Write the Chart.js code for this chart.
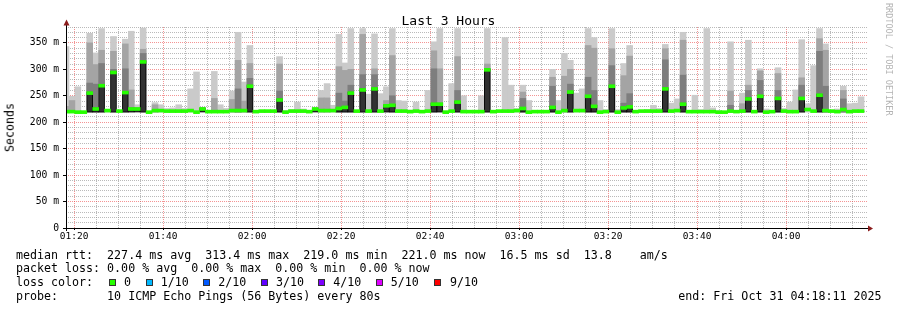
<!DOCTYPE html>
<html>
<head>
<meta charset="utf-8">
<script src="https://cdn.jsdelivr.net/npm/chart.js@4.4.0/dist/chart.umd.min.js"></script>
<style>
html, body { margin: 0; padding: 0; background: #fff; }
#wrap { position: relative; width: 897px; height: 310px; overflow: hidden; font-family: 'DejaVu Sans Mono', monospace; color: #000; }
#wrap canvas { position: absolute; left: 0; top: 0; }
.t { position: absolute; white-space: pre; line-height: 1; font-size: 11.65px; }
.sw { position: absolute; width: 5px; height: 5px; border: 1px solid #333; top: 279px; }
#title { left: 0; width: 897px; text-align: center; top: 14px; font-size: 13px; }
#ylab { left: 5px; top: 103px; writing-mode: vertical-rl; transform: rotate(180deg); }
#credit { left: 884px; top: 3px; writing-mode: vertical-rl; font-size: 8.5px; color: #b4b4b4; }
</style>
</head>
<body>
<div id="wrap">
  <canvas id="chart" width="897" height="310"></canvas>
  <div class="t" id="title">Last 3 Hours</div>
  <div class="t" id="ylab">Seconds</div>
  <div class="t" id="credit">RRDTOOL / TOBI OETIKER</div>
  <div id="legend"></div>
</div>
<script>
// time window: 01:18:11 -> 04:18:11, one probe every 80s
const START = 78 + 11 / 60;
const END = START + 180;
const STEP = 80 / 60;
const MIN_RTT = 219.0;

const xTickLabels = ['01:20', '01:40', '02:00', '02:20', '02:40', '03:00', '03:20', '03:40', '04:00'];
const yTickLabels = ['0', '50 m', '100 m', '150 m', '200 m', '250 m', '300 m', '350 m'];

// smoke: top of the outer (lightest) band, the next band, the darker band; then the median
const smokeMax = [
  343, 249, 267, 221, 368, 331, 377, 224, 362, 221, 357, 372, 233, 378, 220, 237, 233, 226, 227, 233,
  226, 263, 295, 228, 222, 296, 233, 226, 259, 370, 276, 345, 220, 221, 221, 221, 324, 222, 224, 238,
  225, 222, 226, 260, 273, 232, 366, 312, 377, 222, 377, 253, 367, 254, 267, 377, 241, 240, 223, 238,
  221, 260, 352, 377, 221, 273, 377, 250, 222, 222, 250, 377, 222, 221, 360, 270, 226, 270, 241, 220,
  220, 220, 300, 241, 330, 317, 255, 263, 377, 360, 241, 224, 377, 224, 311, 345, 220, 221, 224, 232,
  226, 347, 236, 244, 370, 220, 251, 224, 377, 227, 222, 219, 352, 222, 255, 355, 220, 301, 225, 222,
  303, 226, 238, 261, 356, 235, 307, 377, 348, 221, 225, 268, 235, 236, 248
];
const smokeHigh = [
  230, 241, null, null, 350, 309, 336, null, 334, null, 348, 261, null, 338, null, 233, null, null, null, null,
  null, null, null, null, null, 245, null, null, 243, 317, 240, 311, null, null, null, null, 310, null, null, null,
  null, null, null, 246, 246, null, 305, 298, 300, null, 366, null, 301, null, 241, 326, null, null, null, null,
  null, null, 335, 301, null, null, 324, null, null, null, null, 310, null, null, null, null, null, 257, null, null,
  null, null, 285, null, 287, 300, null, null, 345, 340, null, null, 339, null, 288, 325, null, null, null, null,
  null, 339, null, null, 355, null, null, null, null, null, null, null, 259, null, 235, 270, null, 297, null, null,
  292, null, null, null, 284, null, null, 358, 336, null, null, 260, null, null, null
];
const smokeMid = [
  null, null, null, null, 274, 272, 311, null, 300, null, 301, null, null, 330, null, null, null, null, null, null,
  null, null, null, null, null, null, null, null, null, 263, null, 283, null, null, null, null, 259, null, null, null,
  null, null, null, null, null, null, 255, 240, 270, null, 290, null, 290, null, null, 250, null, null, null, null,
  null, null, 301, null, null, null, 260, null, null, null, null, 301, null, null, null, null, null, 245, null, null,
  null, null, 268, null, null, 272, null, null, 285, 260, null, null, 307, null, 236, 254, null, null, null, null,
  null, 318, null, null, 289, null, null, null, null, null, null, null, 232, null, null, 260, null, 279, null, null,
  260, null, null, null, 270, null, null, 334, 268, null, null, 244, null, null, null
];
const median = [
  220, 220, 219, 219, 255, 225, 269, 222, 294, 221, 256, 225, 225, 314, 219, 222, 222, 221, 221, 221,
  221, 222, 219, 225, 220, 220, 220, 220, 222, 222, 222, 268, 220, 221, 221, 221, 242, 219, 221, 221,
  221, 220, 225, 222, 222, 222, 226, 228, 255, 221, 261, 221, 263, 221, 231, 232, 221, 221, 220, 221,
  220, 221, 234, 234, 219, 221, 238, 220, 220, 220, 220, 299, 220, 221, 221, 221, 222, 226, 219, 220,
  220, 220, 228, 219, 222, 257, 222, 222, 249, 230, 219, 220, 268, 219, 227, 229, 220, 221, 221, 221,
  221, 263, 221, 222, 234, 220, 220, 220, 220, 220, 219, 219, 221, 220, 221, 244, 220, 249, 219, 220,
  245, 221, 220, 220, 245, 224, 221, 251, 222, 221, 220, 224, 220, 221, 221
];

const legendLines = [
  'median rtt:  227.4 ms avg  313.4 ms max  219.0 ms min  221.0 ms now  16.5 ms sd  13.8    am/s',
  'packet loss: 0.00 % avg  0.00 % max  0.00 % min  0.00 % now',
  'loss color:',
  'probe:       10 ICMP Echo Pings (56 Bytes) every 80s'
];
const lossLabels = ['0', '1/10', '2/10', '3/10', '4/10', '5/10', '9/10'];
const lossColors = ['#26ff00', '#00b8ff', '#0059ff', '#5e00ff', '#7e00ff', '#dd00ff', '#ff0000'];
const endLabel = 'end: Fri Oct 31 04:18:11 2025';

// legend text below the plot
const legend = document.getElementById('legend');
const lineTops = [249.8, 263.1, 277.1, 290.8];
legendLines.forEach((txt, i) => {
  const d = document.createElement('div');
  d.className = 't';
  d.style.left = '16px';
  d.style.top = lineTops[i] + 'px';
  d.textContent = txt;
  legend.appendChild(d);
});
const swX = [109, 146, 203.3, 261, 318.3, 376, 434.3];
const lblX = [124, 160.7, 218.3, 276, 333.3, 390.7, 450];
lossLabels.forEach((lab, i) => {
  const s = document.createElement('div');
  s.className = 'sw';
  s.style.left = swX[i] + 'px';
  s.style.background = lossColors[i];
  legend.appendChild(s);
  const d = document.createElement('div');
  d.className = 't';
  d.style.left = lblX[i] + 'px';
  d.style.top = lineTops[2] + 'px';
  d.textContent = lab;
  legend.appendChild(d);
});
const endDiv = document.createElement('div');
endDiv.className = 't';
endDiv.style.left = '678.3px';
endDiv.style.top = lineTops[3] + 'px';
endDiv.textContent = endLabel;
legend.appendChild(endDiv);

// chart data
const times = median.map((_, i) => START + i * STEP);
const band = (arr) => arr.map((v, i) => v == null ? null : { x: times[i], y: [MIN_RTT, v] }).filter(p => p);

const toMin = s => { const [h, m] = s.split(':').map(Number); return h * 60 + m; };
const majorX = xTickLabels.map(toMin);
const gridX = [];
for (let m = 80; m < END; m += 5) gridX.push(m);

const barOpts = { grouped: false, barPercentage: 1, categoryPercentage: 1, borderWidth: 0 };
const MAJOR_GRID = 'rgba(235,60,60,0.55)';
const MINOR_GRID = 'rgba(140,140,140,0.6)';

const axisArrows = {
  id: 'axisArrows',
  afterDraw(chart) {
    const { ctx, chartArea: a } = chart;
    ctx.save();
    ctx.strokeStyle = '#000';
    ctx.lineWidth = 1;
    ctx.beginPath();
    ctx.moveTo(a.left + 0.5, a.bottom + 3);
    ctx.lineTo(a.left + 0.5, a.top - 5);
    ctx.moveTo(a.left - 3, a.bottom + 0.5);
    ctx.lineTo(a.right + 2, a.bottom + 0.5);
    ctx.stroke();
    ctx.fillStyle = '#8b1c1c';
    ctx.beginPath();
    ctx.moveTo(a.left + 0.5, a.top - 7.5);
    ctx.lineTo(a.left - 2.5, a.top - 1.5);
    ctx.lineTo(a.left + 3.5, a.top - 1.5);
    ctx.closePath();
    ctx.fill();
    ctx.beginPath();
    ctx.moveTo(a.right + 6, a.bottom + 0.5);
    ctx.lineTo(a.right + 1, a.bottom - 2.5);
    ctx.lineTo(a.right + 1, a.bottom + 3.5);
    ctx.closePath();
    ctx.fill();
    ctx.restore();
  }
};

new Chart(document.getElementById('chart'), {
  type: 'bar',
  data: {
    datasets: [
      { ...barOpts, data: band(smokeMax), backgroundColor: '#cacaca', order: 5 },
      { ...barOpts, data: band(smokeHigh), backgroundColor: '#a4a4a4', order: 4 },
      { ...barOpts, data: band(smokeMid), backgroundColor: '#7e7e7e', order: 3 },
      { ...barOpts, data: band(median.map(v => v >= 225 ? v + 2 : null)), backgroundColor: '#323232',
        borderWidth: 1, borderColor: '#0a0a0a', borderSkipped: false, order: 2 },
      { ...barOpts, data: median.map((v, i) => ({ x: times[i], y: [v - 2.8, v + 2.8] })), backgroundColor: '#26ff00', order: 1 }
    ]
  },
  options: {
    responsive: false,
    animation: false,
    devicePixelRatio: 1,
    layout: { padding: { top: 27, right: 30, left: 0, bottom: 0 } },
    plugins: { legend: { display: false }, tooltip: { enabled: false }, title: { display: false } },
    scales: {
      x: {
        type: 'linear',
        min: START,
        max: END,
        offset: false,
        afterFit: s => { s.height = 82; },
        afterBuildTicks: s => { s.ticks = gridX.map(v => ({ value: v })); },
        ticks: {
          autoSkip: false,
          maxRotation: 0,
          padding: 1,
          color: '#000',
          font: { family: 'DejaVu Sans Mono', size: 9.5 },
          callback: v => { const k = majorX.indexOf(v); return k >= 0 ? xTickLabels[k] : ''; }
        },
        grid: {
          offset: false,
          tickLength: 2,
          color: c => majorX.includes(c.tick.value) ? MAJOR_GRID : MINOR_GRID,
          tickColor: c => majorX.includes(c.tick.value) ? '#000' : 'rgba(0,0,0,0)'
        },
        border: { display: false, dash: [1, 1] }
      },
      y: {
        min: 0,
        max: 380,
        afterFit: s => { s.width = 66; },
        ticks: {
          stepSize: 10,
          includeBounds: false,
          autoSkip: false,
          padding: 4,
          color: '#000',
          font: { family: 'DejaVu Sans Mono', size: 9.7 },
          callback: v => v % 50 === 0 ? yTickLabels[v / 50] : ''
        },
        grid: {
          tickLength: 3,
          color: c => c.tick.value % 50 === 0 ? MAJOR_GRID : MINOR_GRID,
          tickColor: c => c.tick.value % 50 === 0 ? '#000' : 'rgba(0,0,0,0)'
        },
        border: { display: false, dash: [1, 1] }
      }
    }
  },
  plugins: [axisArrows]
});
</script>
</body>
</html>
